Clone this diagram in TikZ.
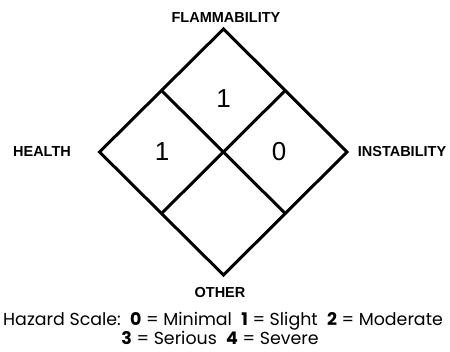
\documentclass[tikz,border=0pt]{standalone}
\usepackage{fontspec}
\setmainfont{Liberation Sans}
\newfontfamily\scalefont{Poppins}
\usetikzlibrary{calc}
\begin{document}
\begin{tikzpicture}[x=1pt,y=-1pt,
  cell/.style={draw=black,line width=3pt,line join=miter},
  lbl/.style={font=\fontsize{14.5}{16}\selectfont\bfseries,inner sep=0pt},
  num/.style={font=\fontsize{26}{30}\selectfont,inner sep=0pt},
  scl/.style={font=\scalefont\fontsize{17.4}{20}\selectfont,inner sep=0pt}]
\useasboundingbox (0,0) rectangle (450,352);
\coordinate (T) at (223.5,29);
\coordinate (L) at (99.5,152);
\coordinate (R) at (347,152);
\coordinate (B) at (223.5,275);
\coordinate (TL) at ($(T)!0.5!(L)$);
\coordinate (TR) at ($(T)!0.5!(R)$);
\coordinate (BL) at ($(B)!0.5!(L)$);
\coordinate (BR) at ($(B)!0.5!(R)$);
\draw[cell] (T) -- (R) -- (B) -- (L) -- cycle;
\draw[cell] (TL) -- (BR);
\draw[cell] (TR) -- (BL);
\node[num] (nf) at (223.5,99) {1};
\node[num] (nh) at (162,152) {1};
\node[num] (ni) at (279,152) {0};
\node[lbl] (flam) at (226,18) {FLAMMABILITY};
\node[lbl] (health) at (42,152) {HEALTH};
\node[lbl] (inst) at (402,152) {INSTABILITY};
\node[lbl] (other) at (220,293) {OTHER};
\node[scl,anchor=base west] (s1) at (3,325.5) {Hazard Scale:\ \ \textbf{0} = Minimal\ \ \textbf{1} = Slight\ \ \textbf{2} = Moderate};
\node[scl,anchor=base] (s2) at (220,345) {\textbf{3} = Serious\ \ \textbf{4} = Severe};
\end{tikzpicture}
\end{document}
